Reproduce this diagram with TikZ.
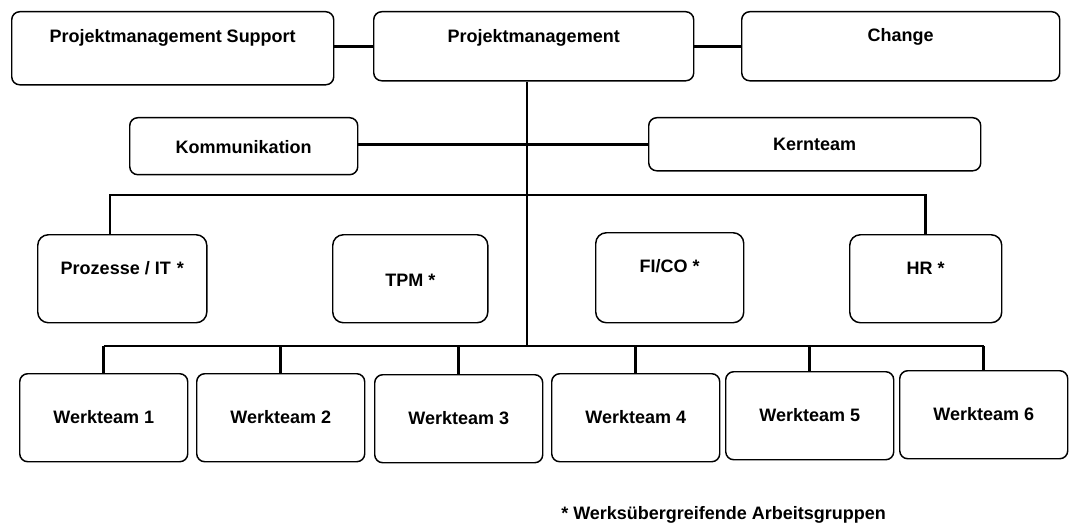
\documentclass[tikz,border=0pt]{standalone}
\usepackage{fontspec}
\setmainfont{Liberation Sans}
\usepackage{tikz}
\usetikzlibrary{positioning}

\begin{document}
\begin{tikzpicture}[x=0.75pt, y=-0.75pt,
    unit/.style={draw, rounded corners=6pt, line width=1.1pt, inner xsep=0pt, inner ysep=0pt,
      anchor=north west, font=\bfseries\fontsize{13.5}{16}\selectfont},
    werk/.style={unit, minimum width=126pt, text height=37.5pt, text depth=28.5pt},
    link/.style={line width=2.2pt}]
  \useasboundingbox (0,0) rectangle (1070,524);

  \node[unit, minimum width=241.5pt, text height=22.9pt, text depth=31.9pt] (pms) at (11,11) {Projektmanagement Support};
  \node[unit, minimum width=240pt, text height=22.9pt, text depth=28.9pt] (pm) at (373,11) {Projektmanagement};
  \node[unit, minimum width=238.5pt, text height=22.5pt, text depth=29.3pt] (chg) at (741,11) {Change};
  \node[unit, minimum width=171pt, text height=26.6pt, text depth=16.1pt] (kom) at (129,117) {Kommunikation};
  \node[unit, minimum width=249pt, text height=24.4pt, text depth=15.4pt] (kern) at (648,117) {Kernteam};

  \node[unit, rounded corners=8pt, minimum width=126.8pt, text height=29.6pt, text depth=36.4pt] (proz) at (37,234) {Prozesse / IT\,\,*};
  \node[unit, rounded corners=8pt, minimum width=116.3pt, text height=38.6pt, text depth=27.4pt] (tpm) at (332,234) {TPM *};
  \node[unit, rounded corners=8pt, minimum width=111pt, text height=29.6pt, text depth=37.9pt] (fico) at (595,232) {FI/CO *};
  \node[unit, rounded corners=8pt, minimum width=114pt, text height=29.6pt, text depth=36.4pt] (hr) at (849,234) {HR *};

  \foreach \i/\x/\y in {1/19/373, 2/196/373, 3/374/374, 4/551/373, 5/725/371, 6/899/370}
    \node[werk] (wt\i) at (\x,\y) {Werkteam \i};

  \node[anchor=base west, inner sep=0pt, font=\bfseries\fontsize{13.5}{16}\selectfont] (note) at (561,519.5) {* Werksübergreifende Arbeitsgruppen};

  \coordinate (hub) at (527,195);
  \coordinate (foot) at (527,346);
  \coordinate (bl) at (110,195);

  \draw[link] (pm.west) -- (pm.west -| pms.east);
  \draw[link] (pm.east) -- (chg.west);
  \draw[link] (hub |- pm.south) -- (foot);
  \draw[link] (kern.west) -- (kern.west -| kom.east);
  \draw[link] (bl |- proz.north) -- (bl) -| (hr.north);
  \draw[link] (wt1.north |- foot) -- (wt6.north |- foot);
  \foreach \i in {1,...,6}
    \draw[link] (wt\i.north) -- (wt\i.north |- foot);
\end{tikzpicture}
\end{document}
